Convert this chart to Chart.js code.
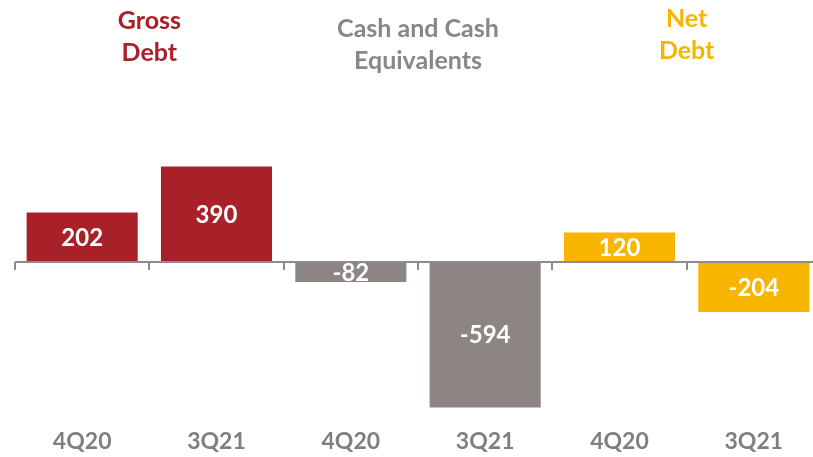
<!DOCTYPE html>
<html>
<head>
<meta charset="utf-8">
<script src="https://cdn.jsdelivr.net/npm/chart.js@4"></script>
<style>
  html, body { margin: 0; padding: 0; overflow: hidden; background: #fff; }
  #wrap { width: 830px; height: 457px; }
</style>
</head>
<body>
<div id="wrap"><canvas id="chart"></canvas></div>
<script>
// Chart values
const categories = ['4Q20', '3Q21', '4Q20', '3Q21', '4Q20', '3Q21'];
const values = [202, 390, -82, -594, 120, -204];
const barColors = ['#A82128', '#A82128', '#8C8584', '#8C8584', '#F7B500', '#F7B500'];
const groupTitles = [['Gross', 'Debt'], ['Cash and Cash', 'Equivalents'], ['Net', 'Debt']];
const groupColors = ['#A82128', '#8C8584', '#F7B500'];

const FONT = 'Lato, "Open Sans", sans-serif';

// white numbers in the middle of each bar
const barLabels = {
    id: 'barLabels',
    afterDatasetsDraw(chart) {
        const ctx = chart.ctx;
        const meta = chart.getDatasetMeta(0);
        ctx.save();
        ctx.fillStyle = '#fff';
        ctx.font = 'bold 24px ' + FONT;
        ctx.textAlign = 'center';
        ctx.textBaseline = 'middle';
        meta.data.forEach((bar, i) => {
            const mid = (bar.y + bar.base) / 2;
            ctx.fillText(String(values[i]), bar.x, mid + 1);
        });
        ctx.restore();
    }
};

// zero line with small ticks between categories, plus group headings
const axisAndTitles = {
    id: 'axisAndTitles',
    afterDatasetsDraw(chart) {
        const ctx = chart.ctx;
        const x = chart.scales.x;
        const y = chart.scales.y;
        const y0 = Math.round(y.getPixelForValue(0));
        const step = x.getPixelForValue(1) - x.getPixelForValue(0);
        ctx.save();
        ctx.strokeStyle = '#8C8C8C';
        ctx.lineWidth = 2;
        ctx.beginPath();
        ctx.moveTo(x.left, y0);
        ctx.lineTo(x.right, y0);
        for (let i = 0; i <= categories.length; i++) {
            const px = Math.round(x.getPixelForValue(0) - step / 2 + i * step);
            ctx.moveTo(px, y0);
            ctx.lineTo(px, y0 + 8);
        }
        ctx.stroke();

        ctx.font = 'bold 25px ' + FONT;
        ctx.textAlign = 'center';
        ctx.textBaseline = 'middle';
        const tops = [21, 29, 19];
        groupTitles.forEach((lines, g) => {
            const cx = (x.getPixelForValue(g * 2) + x.getPixelForValue(g * 2 + 1)) / 2;
            ctx.fillStyle = groupColors[g];
            lines.forEach((t, k) => ctx.fillText(t, cx, tops[g] + k * 32));
        });
        ctx.restore();
    }
};

new Chart(document.getElementById('chart'), {
    type: 'bar',
    data: {
        labels: categories,
        datasets: [{
            data: values,
            backgroundColor: barColors,
            borderWidth: 0,
            categoryPercentage: 1,
            barPercentage: 0.827
        }]
    },
    options: {
        responsive: true,
        maintainAspectRatio: false,
        animation: false,
        layout: { padding: { top: 164, left: 15, right: 9, bottom: 0 } },
        plugins: { legend: { display: false }, tooltip: { enabled: false } },
        scales: {
            x: {
                grid: { display: false, drawTicks: false },
                border: { display: false },
                ticks: {
                    color: '#7F7F7F',
                    font: { family: FONT, size: 23, weight: 'bold' },
                    padding: 19
                },
                afterFit(scale) { scale.height = 48; }
            },
            y: {
                display: false,
                min: -600,
                max: 400
            }
        }
    },
    plugins: [barLabels, axisAndTitles]
});
</script>
</body>
</html>
